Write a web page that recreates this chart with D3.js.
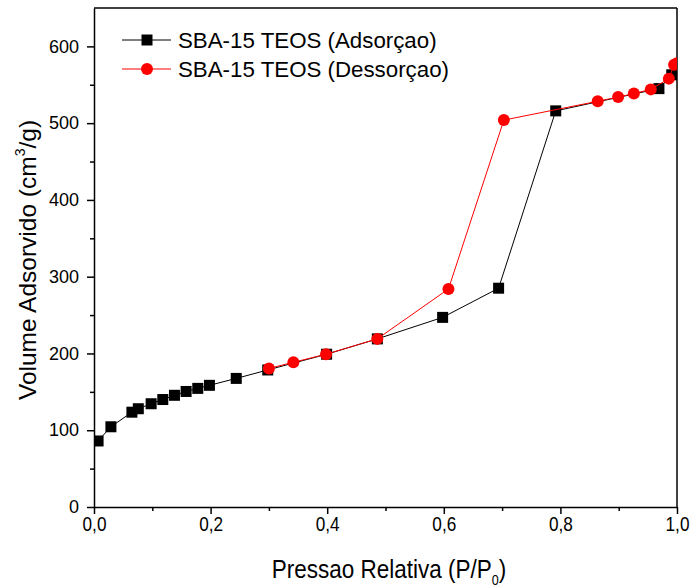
<!DOCTYPE html>
<html>
<head>
<meta charset="utf-8">
<script src="https://cdn.jsdelivr.net/npm/d3@7"></script>
<style>
  body { margin: 0; background: #fff; }
  svg { font-family: "Liberation Sans", Arial, sans-serif; }
</style>
</head>
<body>
<div id="main"></div>
<script>
// adsorption branch (P/P0, volume)
const adsX = [0.007, 0.029, 0.065, 0.076, 0.098, 0.118, 0.138, 0.158, 0.178, 0.198, 0.244, 0.298,
  0.399, 0.486, 0.598, 0.694, 0.792, 0.969, 0.991, 1.0];
const adsY = [86, 104.5, 123.5, 128, 134.5, 140, 145.5, 150.5, 154.5, 158.5, 167.5, 178.5,
  199, 219, 247, 285, 516, 545, 563, 568];

// desorption branch
const desX = [1.0, 0.995, 0.986, 0.955, 0.926, 0.899, 0.864, 0.703, 0.608, 0.486, 0.398, 0.342, 0.300];
const desY = [578, 576, 558, 544, 538.5, 534, 528.5, 504, 284, 219, 199, 188.5, 180.5];

const xTicks = [0, 0.2, 0.4, 0.6, 0.8, 1.0];
const yTicks = [0, 100, 200, 300, 400, 500, 600];

const seriesNames = ['SBA-15 TEOS (Adsorçao)', 'SBA-15 TEOS (Dessorçao)'];

const W = 692, H = 587;
const m = { left: 94, right: 15, top: 8, bottom: 80 };
const width = W - m.left - m.right;
const height = H - m.top - m.bottom;

const svg = d3.select('#main').append('svg')
  .attr('width', W)
  .attr('height', H);

const x = d3.scaleLinear().domain([0, 1]).range([0, width]);
const y = d3.scaleLinear().domain([0, 650]).range([height, 0]);

const chart = svg.append('g')
  .attr('transform', `translate(${m.left},${m.top})`);

svg.append('defs').append('clipPath').attr('id', 'clip')
  .append('rect').attr('width', width).attr('height', height);

// axes
const fmt = d => d3.format('.1f')(d).replace('.', ',');

const xAxis = chart.append('g')
  .attr('transform', `translate(0,${height})`)
  .call(d3.axisBottom(x).tickValues(xTicks).tickFormat(fmt).tickSize(7).tickSizeOuter(0));
chart.append('g')
  .attr('transform', `translate(0,${height})`)
  .call(d3.axisBottom(x).tickValues(d3.range(0.1, 1, 0.2)).tickFormat('').tickSize(4).tickSizeOuter(0))
  .select('.domain').remove();

const yAxis = chart.append('g')
  .call(d3.axisLeft(y).tickValues(yTicks).tickSize(7).tickSizeOuter(0));
chart.append('g')
  .call(d3.axisLeft(y).tickValues(d3.range(50, 650, 100)).tickFormat('').tickSize(4).tickSizeOuter(0))
  .select('.domain').remove();

chart.selectAll('.tick line').attr('stroke', '#000').attr('stroke-width', 1.5);
chart.selectAll('.domain').attr('stroke', '#000').attr('stroke-width', 1.5);

// narrow tick labels like the original
xAxis.selectAll('text')
  .attr('font-size', 20)
  .attr('fill', '#000')
  .attr('y', 0)
  .attr('dy', 24)
  .attr('transform', 'scale(0.86,1)');
yAxis.selectAll('text')
  .attr('font-size', 18)
  .attr('fill', '#000')
  .attr('x', -15);

// frame top and right
chart.append('line')
  .attr('x1', 0).attr('x2', width).attr('y1', 0).attr('y2', 0)
  .attr('stroke', '#000').attr('stroke-width', 1.5);
chart.append('line')
  .attr('x1', width).attr('x2', width).attr('y1', 0).attr('y2', height)
  .attr('stroke', '#000').attr('stroke-width', 1.5);

// series
const plot = chart.append('g').attr('clip-path', 'url(#clip)');
const ads = adsX.map((v, i) => [v, adsY[i]]);
const des = desX.map((v, i) => [v, desY[i]]);
const line = d3.line().x(d => x(d[0])).y(d => y(d[1]));

plot.append('path').datum(ads)
  .attr('d', line).attr('fill', 'none').attr('stroke', '#000').attr('stroke-width', 1);
plot.selectAll('.sq').data(ads).enter().append('rect')
  .attr('x', d => x(d[0]) - 5.5).attr('y', d => y(d[1]) - 5.5)
  .attr('width', 11).attr('height', 11).attr('fill', '#000');

plot.append('path').datum(des)
  .attr('d', line).attr('fill', 'none').attr('stroke', '#ff0000').attr('stroke-width', 1);
plot.selectAll('.ci').data(des).enter().append('circle')
  .attr('cx', d => x(d[0])).attr('cy', d => y(d[1]))
  .attr('r', 6).attr('fill', '#ff0000');

// legend
const legend = svg.append('g');
const legendRows = [
  { y: 40, color: '#000', shape: 'square' },
  { y: 69, color: '#ff0000', shape: 'circle' }
];
legendRows.forEach((r, i) => {
  legend.append('line')
    .attr('x1', 122).attr('x2', 171).attr('y1', r.y).attr('y2', r.y)
    .attr('stroke', r.color).attr('stroke-width', 1);
  if (r.shape === 'square') {
    legend.append('rect').attr('x', 141.5).attr('y', r.y - 5.5)
      .attr('width', 11).attr('height', 11).attr('fill', r.color);
  } else {
    legend.append('circle').attr('cx', 147).attr('cy', r.y).attr('r', 6).attr('fill', r.color);
  }
  legend.append('text')
    .attr('x', 178).attr('y', r.y + 8)
    .attr('font-size', 22.3)
    .attr('fill', '#000')
    .text(seriesNames[i]);
});

// axis titles
const xt = svg.append('text')
  .attr('x', 389).attr('y', 578)
  .attr('text-anchor', 'middle')
  .attr('font-size', 25)
  .attr('transform', 'translate(389,0) scale(0.9,1) translate(-389,0)');
xt.append('tspan').text('Pressao Relativa (P/P');
xt.append('tspan').attr('font-size', 14).attr('dy', 7).text('0');
xt.append('tspan').attr('dy', -7).text(')');

const yt = svg.append('text')
  .attr('transform', 'translate(36,260) rotate(-90)')
  .attr('text-anchor', 'middle')
  .attr('font-size', 24.5);
yt.append('tspan').text('Volume Adsorvido (cm');
yt.append('tspan').attr('font-size', 14).attr('dy', -11).text('3');
yt.append('tspan').attr('dy', 11).text('/g)');
</script>
</body>
</html>
